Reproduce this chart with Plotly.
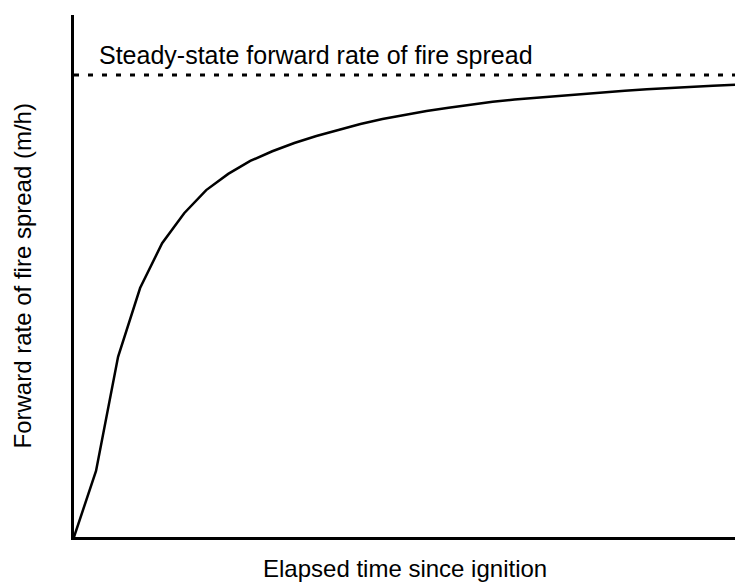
import plotly.graph_objects as go

# Elapsed time (arbitrary units) and forward rate of spread (fraction of steady state)
elapsed_time = list(range(0, 31))
rate_of_spread = [0.0, 0.143, 0.39, 0.539, 0.636, 0.701, 0.751, 0.786, 0.814, 0.835,
                  0.853, 0.868, 0.881, 0.894, 0.905, 0.914, 0.922, 0.929, 0.936, 0.942,
                  0.947, 0.951, 0.955, 0.959, 0.962, 0.966, 0.969, 0.972, 0.975, 0.977,
                  0.979]
steady_state_rate = 1.0
steady_state_label = "Steady-state forward rate of fire spread"
x_title = "Elapsed time since ignition"
y_title = "Forward rate of fire spread (m/h)"

FONT = "Liberation Sans, Arial, sans-serif"

fig = go.Figure()
fig.add_trace(go.Scatter(
    x=[elapsed_time[0], elapsed_time[-1]],
    y=[steady_state_rate, steady_state_rate],
    mode="lines",
    line=dict(color="black", width=3, dash="5px,9px"),
    hoverinfo="skip",
    showlegend=False,
))
fig.add_trace(go.Scatter(
    x=elapsed_time,
    y=rate_of_spread,
    mode="lines",
    line=dict(color="black", width=2.5),
    showlegend=False,
))

fig.update_layout(
    width=736, height=583,
    margin=dict(l=74, r=1, t=15, b=46),
    plot_bgcolor="white", paper_bgcolor="white",
    font=dict(family=FONT, size=24, color="black"),
    xaxis=dict(range=[0, 30], showline=True, linecolor="black", linewidth=2.5,
               showticklabels=False, ticks="", showgrid=False, zeroline=False),
    yaxis=dict(range=[0, 1.13], showline=True, linecolor="black", linewidth=2.5,
               showticklabels=False, ticks="", showgrid=False, zeroline=False),
    annotations=[
        dict(text=steady_state_label, xref="paper", yref="y", x=(97 - 74) / 661,
             y=steady_state_rate, xanchor="left", yanchor="middle", yshift=20,
             showarrow=False, font=dict(size=25)),
        dict(text=x_title, xref="paper", yref="paper", x=0.5, y=0,
             xanchor="center", yanchor="middle", yshift=-31.5,
             showarrow=False, font=dict(size=24)),
        dict(text=y_title, xref="paper", yref="paper", x=0, y=0.5,
             xanchor="center", yanchor="middle", xshift=-52.5, textangle=-90,
             showarrow=False, font=dict(size=24)),
    ],
)

fig.write_html(
    "out.html",
    config={"displayModeBar": False},
    post_script="document.body.style.margin='0';document.body.style.overflow='hidden';",
)
